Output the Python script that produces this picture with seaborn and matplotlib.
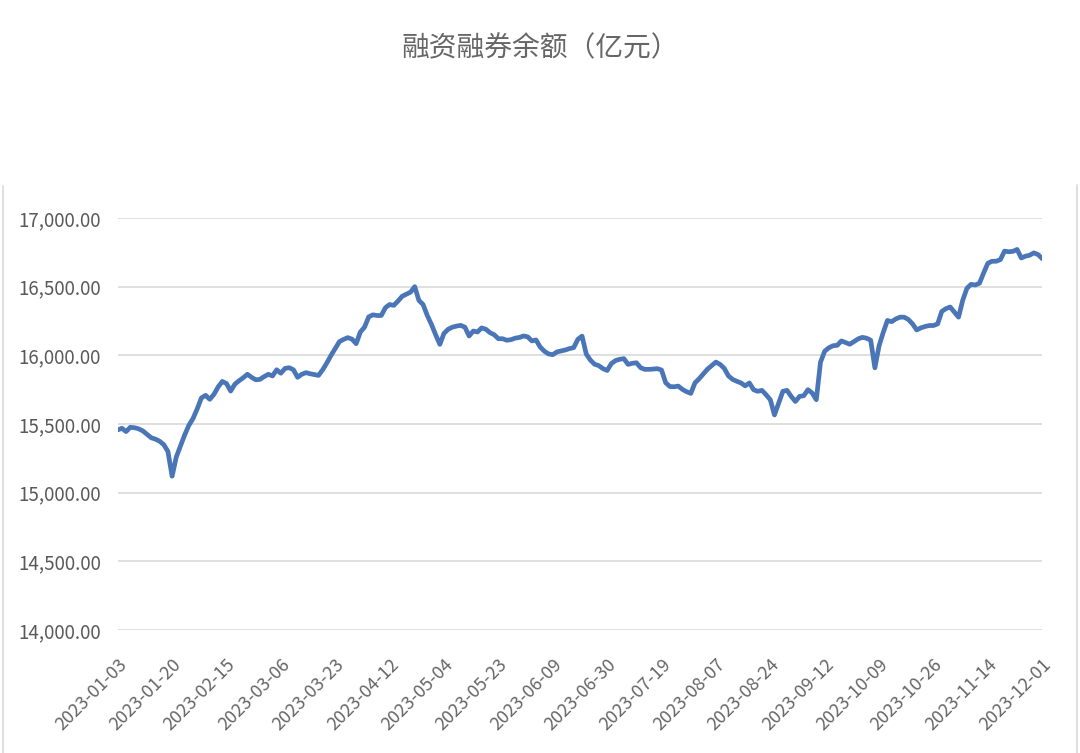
import pandas as pd
import numpy as np
import matplotlib
matplotlib.use("Agg")
import matplotlib.pyplot as plt
import seaborn as sns
from matplotlib.lines import Line2D

# 2023 A-share trading days, Jan 3 -> Dec 1
holidays = ["2023-01-02", "2023-01-23", "2023-01-24", "2023-01-25", "2023-01-26",
            "2023-01-27", "2023-04-05", "2023-05-01", "2023-05-02", "2023-05-03",
            "2023-06-22", "2023-06-23", "2023-09-29", "2023-10-02", "2023-10-03",
            "2023-10-04", "2023-10-05", "2023-10-06"]
days = pd.bdate_range("2023-01-03", "2023-12-01")
days = days[~days.isin(pd.to_datetime(holidays))]
dates = [d.strftime("%Y-%m-%d") for d in days]

# margin balance, 100 million yuan
balance = [
    15457, 15469, 15445, 15476, 15473, 15465, 15450, 15425, 15400, 15390,
    15375, 15350, 15300, 15120, 15260, 15340, 15420, 15490, 15540, 15610,
    15690, 15709, 15680, 15716, 15770, 15810, 15795, 15740, 15790, 15815,
    15837, 15862, 15840, 15822, 15825, 15845, 15862, 15850, 15895, 15870,
    15905, 15910, 15895, 15840, 15862, 15874, 15866, 15860, 15854, 15895,
    15945, 16000, 16050, 16100, 16116, 16129, 16118, 16085, 16170, 16205,
    16280, 16295, 16290, 16290, 16347, 16370, 16364, 16395, 16430, 16445,
    16460, 16500, 16400, 16370, 16290, 16225, 16150, 16080, 16160, 16190,
    16205, 16213, 16218, 16205, 16141, 16177, 16170, 16200, 16190, 16165,
    16150, 16121, 16121, 16110, 16114, 16125, 16130, 16141, 16135, 16105,
    16112, 16060, 16030, 16010, 16005, 16025, 16032, 16039, 16049, 16056,
    16117, 16140, 16010, 15965, 15935, 15925, 15903, 15890, 15940, 15962,
    15971, 15976, 15934, 15942, 15946, 15910, 15898, 15898, 15900, 15903,
    15893, 15800, 15773, 15771, 15776, 15752, 15735, 15723, 15800, 15830,
    15865, 15900, 15925, 15951, 15934, 15905, 15850, 15825, 15811, 15799,
    15778, 15799, 15750, 15738, 15745, 15713, 15677, 15566, 15652, 15738,
    15745, 15701, 15664, 15701, 15706, 15750, 15726, 15677, 15950, 16030,
    16055, 16070, 16073, 16105, 16093, 16081, 16100, 16120, 16131, 16125,
    16110, 15909, 16069, 16167, 16254, 16245, 16265, 16278, 16278, 16261,
    16229, 16185, 16200, 16210, 16217, 16217, 16229, 16320, 16340, 16352,
    16315, 16278, 16401, 16488, 16517, 16512, 16525, 16600, 16670, 16685,
    16685, 16697, 16759, 16754, 16757, 16771, 16709, 16722, 16729, 16746,
    16734, 16704,
]
y_ticks = [14000, 14500, 15000, 15500, 16000, 16500, 17000]

df = pd.DataFrame({"date": dates, "balance": balance})
df["pos"] = range(len(df))

sns.set_style("white")
plt.rcParams["font.family"] = ["Noto Sans CJK SC", "DejaVu Sans"]

fig = plt.figure(figsize=(10.8, 7.53), dpi=100)
ax = fig.add_axes([0.109, 0.1633, 0.856, 0.5472])

sns.lineplot(data=df, x="pos", y="balance", ax=ax, color="#4a76b8", linewidth=3.4)

ax.set_xlim(0, len(df) - 1)
ax.set_ylim(14000, 17000)
ax.set_yticks(y_ticks)
ax.set_yticklabels([f"{v:,.2f}" for v in y_ticks], fontsize=13.5, color="#595959")
tick_pos = df["pos"][::13]
ax.set_xticks(tick_pos)
ax.set_xticklabels(df["date"][::13], rotation=45, ha="right", rotation_mode="anchor",
                   fontsize=13, color="#666666")
ax.tick_params(axis="both", length=0)
ax.tick_params(axis="x", pad=18)
ax.tick_params(axis="y", pad=12)
ax.grid(axis="y", color="#d9d9d9", linewidth=1.2)
ax.set_axisbelow(True)
for s in ax.spines.values():
    s.set_visible(False)
ax.set_xlabel("")
ax.set_ylabel("")

fig.text(0.5, 0.936, "融资融券余额（亿元）", ha="center", va="center",
         fontsize=20, color="#666666")

# faint chart-area frame edges
fig.add_artist(Line2D([0.003, 0.003], [0, 0.753], color="#d9d9d9", linewidth=1.2))
fig.add_artist(Line2D([0.997, 0.997], [0, 0.754], color="#d9d9d9", linewidth=1.2))

fig.savefig("out.png", dpi=100, facecolor="white")
